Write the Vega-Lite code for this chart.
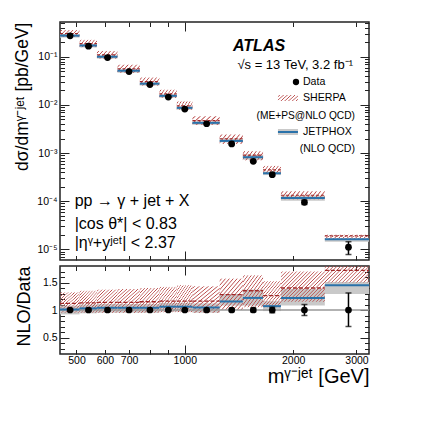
{
"$schema": "https://vega.github.io/schema/vega-lite/v6.json",
"padding": {"left": 13, "top": 20, "right": 5, "bottom": 5},
"spacing": 6,
"bounds": "flush",
"config": {
  "view": {"stroke": "#222", "strokeWidth": 1.5},
  "font": "Liberation Sans",
  "axis": {"domain": false, "grid": false, "tickColor": "#222", "tickWidth": 1, "labelFont": "Liberation Sans", "labelFontSize": 10.5, "labelColor": "#000", "titleFont": "Liberation Sans", "titleFontWeight": "normal", "titleColor": "#000", "labelOverlap": false},
  "text": {"font": "Liberation Sans", "color": "#000"}
},
"datasets": {
  "bins": [
    {"lo":450,"hi":510,"m":480,"d":0.273,"dlo":0.268,"dhi":0.278,"j":0.2757,"jlo":0.2512,"jhi":0.2948,"s":0.3058,"slo":0.2594,"shi":0.3604,"rj":1.01,"rjlo":0.92,"rjhi":1.08,"rs":1.12,"rslo":0.95,"rshi":1.32,"rdlo":0.98,"rdhi":1.02},
    {"lo":510,"hi":570,"m":540,"d":0.167,"dlo":0.164,"dhi":0.170,"j":0.172,"jlo":0.157,"jhi":0.1837,"s":0.1887,"slo":0.1587,"shi":0.2255,"rj":1.03,"rjlo":0.94,"rjhi":1.10,"rs":1.13,"rslo":0.95,"rshi":1.35,"rdlo":0.98,"rdhi":1.02},
    {"lo":570,"hi":650,"m":610,"d":0.0967,"dlo":0.0950,"dhi":0.0984,"j":0.1006,"jlo":0.0919,"jhi":0.1073,"s":0.1102,"slo":0.0919,"shi":0.1325,"rj":1.04,"rjlo":0.95,"rjhi":1.11,"rs":1.14,"rslo":0.95,"rshi":1.37,"rdlo":0.98,"rdhi":1.02},
    {"lo":650,"hi":750,"m":700,"d":0.0495,"dlo":0.0486,"dhi":0.0504,"j":0.0515,"jlo":0.0470,"jhi":0.0549,"s":0.0564,"slo":0.0470,"shi":0.0683,"rj":1.04,"rjlo":0.95,"rjhi":1.11,"rs":1.14,"rslo":0.95,"rshi":1.38,"rdlo":0.98,"rdhi":1.02},
    {"lo":750,"hi":850,"m":800,"d":0.0266,"dlo":0.0261,"dhi":0.0271,"j":0.0277,"jlo":0.0253,"jhi":0.0295,"s":0.0306,"slo":0.0253,"shi":0.0372,"rj":1.04,"rjlo":0.95,"rjhi":1.11,"rs":1.15,"rslo":0.95,"rshi":1.40,"rdlo":0.98,"rdhi":1.02},
    {"lo":850,"hi":950,"m":900,"d":0.0146,"dlo":0.01433,"dhi":0.01487,"j":0.01548,"jlo":0.01416,"jhi":0.0165,"s":0.01694,"slo":0.01402,"shi":0.02073,"rj":1.06,"rjlo":0.97,"rjhi":1.13,"rs":1.16,"rslo":0.96,"rshi":1.42,"rdlo":0.98,"rdhi":1.02},
    {"lo":950,"hi":1050,"m":1000,"d":0.00822,"dlo":0.00805,"dhi":0.00839,"j":0.00871,"jlo":0.00797,"jhi":0.00929,"s":0.00954,"slo":0.00789,"shi":0.01192,"rj":1.06,"rjlo":0.97,"rjhi":1.13,"rs":1.16,"rslo":0.96,"rshi":1.45,"rdlo":0.98,"rdhi":1.02},
    {"lo":1050,"hi":1250,"m":1150,"d":0.00407,"dlo":0.00398,"dhi":0.00416,"j":0.004253,"jlo":0.003867,"jhi":0.004558,"s":0.004721,"slo":0.003867,"shi":0.00582,"rj":1.045,"rjlo":0.95,"rjhi":1.12,"rs":1.16,"rslo":0.95,"rshi":1.43,"rdlo":0.98,"rdhi":1.02},
    {"lo":1250,"hi":1450,"m":1350,"d":0.00155,"dlo":0.00151,"dhi":0.00159,"j":0.00179,"jlo":0.001674,"jhi":0.0020,"s":0.001984,"slo":0.00155,"shi":0.002434,"rj":1.155,"rjlo":1.08,"rjhi":1.29,"rs":1.28,"rslo":1.0,"rshi":1.57,"rdlo":0.97,"rdhi":1.03},
    {"lo":1450,"hi":1650,"m":1550,"d":0.000673,"dlo":0.000649,"dhi":0.000697,"j":0.000821,"jlo":0.000727,"jhi":0.000922,"s":0.000909,"slo":0.000707,"shi":0.001097,"rj":1.22,"rjlo":1.08,"rjhi":1.37,"rs":1.35,"rslo":1.05,"rshi":1.63,"rdlo":0.965,"rdhi":1.035},
    {"lo":1650,"hi":1850,"m":1750,"d":0.000356,"dlo":0.000338,"dhi":0.000374,"j":0.000381,"jlo":0.000349,"jhi":0.000413,"s":0.000449,"slo":0.000374,"shi":0.000541,"rj":1.07,"rjlo":0.98,"rjhi":1.16,"rs":1.26,"rslo":1.05,"rshi":1.52,"rdlo":0.95,"rdhi":1.05},
    {"lo":1850,"hi":2450,"m":2150,"d":0.000095,"dlo":0.0000855,"dhi":0.0001045,"j":0.0001159,"jlo":0.0001026,"jhi":0.0001311,"s":0.000133,"slo":0.0001093,"shi":0.0001615,"rj":1.22,"rjlo":1.08,"rjhi":1.38,"rs":1.40,"rslo":1.15,"rshi":1.70,"rdlo":0.90,"rdhi":1.10},
    {"lo":2450,"hi":3250,"m":2850,"d":0.0000111,"dlo":0.0000078,"dhi":0.0000144,"j":0.0000161,"jlo":0.00001432,"jhi":0.00001676,"s":0.00001909,"slo":0.00001665,"shi":0.00001998,"rj":1.45,"rjlo":1.29,"rjhi":1.51,"rs":1.72,"rslo":1.50,"rshi":1.80,"rdlo":0.70,"rdhi":1.31}
  ]
},
"vconcat": [
{
  "width": 309, "height": 238,
  "data": {"name": "bins"},
  "resolve": {"axis": {"x": "independent", "y": "independent"}},
  "layer": [
    {"mark": {"type": "rect", "fill": "#c9c9c9"},
     "encoding": {
       "x": {"field": "lo", "type": "quantitative", "scale": {"type": "log", "domain": [450, 3250], "nice": false},
             "axis": {"orient": "bottom", "values": [500,600,700,800,900,1000,2000,3000], "labels": false, "title": null, "tickSize": {"condition": {"test": "datum.value == 1000", "value": -9}, "value": -4.5}}},
       "x2": {"field": "hi"},
       "y": {"field": "jlo", "type": "quantitative", "scale": {"type": "log", "domain": [0.000006, 0.53], "nice": false},
             "axis": {"orient": "left", "values": [0.00001, 0.0001, 0.001, 0.01, 0.1], "ticks": false, "tickSize": 0, "labelPadding": 3,
                      "labelExpr": "datum.value == 0.1 ? '10⁻¹' : datum.value == 0.01 ? '10⁻²' : datum.value == 0.001 ? '10⁻³' : datum.value == 0.0001 ? '10⁻⁴' : '10⁻⁵'",
                      "title": "dσ/dmᵞ⁻ʲᵉᵗ [pb/GeV]", "titleFontSize": 17.5, "titlePadding": 5, "titleAnchor": "end"}},
       "y2": {"field": "jhi"}
     }},
    {"transform": [{"filter": "datum.lo < 1850"}],
     "mark": {"type": "rect", "fill": {"gradient": "linear", "x1": 0, "y1": 0, "x2": 1.2, "y2": 0.4, "stops": [
        {"offset":0.0357,"color":"rgba(185,74,74,0)"},{"offset":0.0714,"color":"#b94a4a"},{"offset":0.1071,"color":"rgba(185,74,74,0)"},
        {"offset":0.1786,"color":"rgba(185,74,74,0)"},{"offset":0.2143,"color":"#b94a4a"},{"offset":0.25,"color":"rgba(185,74,74,0)"},
        {"offset":0.3214,"color":"rgba(185,74,74,0)"},{"offset":0.3571,"color":"#b94a4a"},{"offset":0.3929,"color":"rgba(185,74,74,0)"},
        {"offset":0.4643,"color":"rgba(185,74,74,0)"},{"offset":0.5,"color":"#b94a4a"},{"offset":0.5357,"color":"rgba(185,74,74,0)"},
        {"offset":0.6071,"color":"rgba(185,74,74,0)"},{"offset":0.6429,"color":"#b94a4a"},{"offset":0.6786,"color":"rgba(185,74,74,0)"},
        {"offset":0.75,"color":"rgba(185,74,74,0)"},{"offset":0.7857,"color":"#b94a4a"},{"offset":0.8214,"color":"rgba(185,74,74,0)"},
        {"offset":0.8929,"color":"rgba(185,74,74,0)"},{"offset":0.9286,"color":"#b94a4a"},{"offset":0.9643,"color":"rgba(185,74,74,0)"}]}},
     "encoding": {
       "x": {"field": "lo", "type": "quantitative", "scale": {"type": "log", "domain": [450, 3250], "nice": false},
             "axis": {"orient": "top", "values": [500,600,700,800,900,1000,2000,3000], "labels": false, "title": null, "tickSize": {"condition": {"test": "datum.value == 1000", "value": -9}, "value": -4.5}}},
       "x2": {"field": "hi"},
       "y": {"field": "slo", "type": "quantitative", "scale": {"type": "log", "domain": [0.000006, 0.53], "nice": false},
             "axis": {"orient": "left", "labels": false, "title": null,
                      "values": [0.000007,0.000008,0.000009,0.00001,0.00002,0.00003,0.00004,0.00005,0.00006,0.00007,0.00008,0.00009,0.0001,0.0002,0.0003,0.0004,0.0005,0.0006,0.0007,0.0008,0.0009,0.001,0.002,0.003,0.004,0.005,0.006,0.007,0.008,0.009,0.01,0.02,0.03,0.04,0.05,0.06,0.07,0.08,0.09,0.1,0.2,0.3,0.4,0.5],
                      "tickSize": {"condition": {"test": "abs(log(datum.value)/LN10 - round(log(datum.value)/LN10)) < 0.001", "value": -9}, "value": -4.5}}},
       "y2": {"field": "shi"}
     }},
    {"transform": [{"filter": "datum.lo >= 1850"}],
     "mark": {"type": "rect", "fill": {"gradient": "linear", "x1": 0, "y1": 0, "x2": 1.12, "y2": 0.16, "stops": [
        {"offset":0.0208,"color":"rgba(185,74,74,0)"},{"offset":0.0417,"color":"#b94a4a"},{"offset":0.0625,"color":"rgba(185,74,74,0)"},
        {"offset":0.1042,"color":"rgba(185,74,74,0)"},{"offset":0.125,"color":"#b94a4a"},{"offset":0.1458,"color":"rgba(185,74,74,0)"},
        {"offset":0.1875,"color":"rgba(185,74,74,0)"},{"offset":0.2083,"color":"#b94a4a"},{"offset":0.2292,"color":"rgba(185,74,74,0)"},
        {"offset":0.2708,"color":"rgba(185,74,74,0)"},{"offset":0.2917,"color":"#b94a4a"},{"offset":0.3125,"color":"rgba(185,74,74,0)"},
        {"offset":0.3542,"color":"rgba(185,74,74,0)"},{"offset":0.375,"color":"#b94a4a"},{"offset":0.3958,"color":"rgba(185,74,74,0)"},
        {"offset":0.4375,"color":"rgba(185,74,74,0)"},{"offset":0.4583,"color":"#b94a4a"},{"offset":0.4792,"color":"rgba(185,74,74,0)"},
        {"offset":0.5208,"color":"rgba(185,74,74,0)"},{"offset":0.5417,"color":"#b94a4a"},{"offset":0.5625,"color":"rgba(185,74,74,0)"},
        {"offset":0.6042,"color":"rgba(185,74,74,0)"},{"offset":0.625,"color":"#b94a4a"},{"offset":0.6458,"color":"rgba(185,74,74,0)"},
        {"offset":0.6875,"color":"rgba(185,74,74,0)"},{"offset":0.7083,"color":"#b94a4a"},{"offset":0.7292,"color":"rgba(185,74,74,0)"},
        {"offset":0.7708,"color":"rgba(185,74,74,0)"},{"offset":0.7917,"color":"#b94a4a"},{"offset":0.8125,"color":"rgba(185,74,74,0)"},
        {"offset":0.8542,"color":"rgba(185,74,74,0)"},{"offset":0.875,"color":"#b94a4a"},{"offset":0.8958,"color":"rgba(185,74,74,0)"},
        {"offset":0.9375,"color":"rgba(185,74,74,0)"},{"offset":0.9583,"color":"#b94a4a"},{"offset":0.9792,"color":"rgba(185,74,74,0)"}]}},
     "encoding": {
       "x": {"field": "lo", "type": "quantitative", "axis": null},
       "x2": {"field": "hi"},
       "y": {"field": "slo", "type": "quantitative",
             "axis": {"orient": "right", "labels": false, "title": null,
                      "values": [0.000007,0.000008,0.000009,0.00001,0.00002,0.00003,0.00004,0.00005,0.00006,0.00007,0.00008,0.00009,0.0001,0.0002,0.0003,0.0004,0.0005,0.0006,0.0007,0.0008,0.0009,0.001,0.002,0.003,0.004,0.005,0.006,0.007,0.008,0.009,0.01,0.02,0.03,0.04,0.05,0.06,0.07,0.08,0.09,0.1,0.2,0.3,0.4,0.5],
                      "tickSize": {"condition": {"test": "abs(log(datum.value)/LN10 - round(log(datum.value)/LN10)) < 0.001", "value": -9}, "value": -4.5}}},
       "y2": {"field": "shi"}
     }},
    {"mark": {"type": "rule", "color": "#a02828", "strokeWidth": 1.2, "strokeDash": [3, 2]},
     "encoding": {"x": {"field": "lo", "type": "quantitative", "axis": null}, "x2": {"field": "hi"}, "y": {"field": "s", "type": "quantitative", "axis": null}}},
    {"mark": {"type": "rule", "color": "#2a72aa", "strokeWidth": 2},
     "encoding": {"x": {"field": "lo", "type": "quantitative", "axis": null}, "x2": {"field": "hi"}, "y": {"field": "j", "type": "quantitative", "axis": null}}},
    {"mark": {"type": "errorbar", "ticks": {"size": 6, "color": "#000"}, "rule": {"color": "#000"}, "thickness": 1.5},
     "encoding": {"x": {"field": "m", "type": "quantitative", "axis": null}, "y": {"field": "dlo", "type": "quantitative", "axis": null}, "y2": {"field": "dhi"}}},
    {"mark": {"type": "point", "shape": "circle", "filled": true, "color": "#000", "opacity": 1, "size": 45},
     "encoding": {"x": {"field": "m", "type": "quantitative", "axis": null}, "y": {"field": "d", "type": "quantitative", "axis": null}}},
    {"data": {"values": [{}]}, "mark": {"type": "text", "text": "ATLAS", "fontSize": 16, "fontStyle": "italic", "fontWeight": "bold", "align": "left", "baseline": "middle"},
     "encoding": {"x": {"datum": 1361, "axis": null}, "y": {"datum": 0.1705, "axis": null}}},
    {"data": {"values": [{}]}, "mark": {"type": "text", "text": "√s = 13 TeV, 3.2 fb⁻¹", "fontSize": 13, "align": "right", "baseline": "middle"},
     "encoding": {"x": {"datum": 2933, "axis": null}, "y": {"datum": 0.0687, "axis": null}}},
    {"data": {"values": [{}]}, "mark": {"type": "point", "shape": "circle", "filled": true, "color": "#000", "opacity": 1, "size": 40},
     "encoding": {"x": {"datum": 2037, "axis": null}, "y": {"datum": 0.03003, "axis": null}}},
    {"data": {"values": [{}]}, "mark": {"type": "text", "text": "Data", "fontSize": 10.6, "align": "left", "baseline": "middle"},
     "encoding": {"x": {"datum": 2130, "axis": null}, "y": {"datum": 0.03003, "axis": null}}},
    {"data": {"values": [{}]},
     "mark": {"type": "rect", "fill": {"gradient": "linear", "x1": 0, "y1": 0, "x2": 1.2, "y2": 0.4, "stops": [
        {"offset":0.0357,"color":"rgba(185,74,74,0)"},{"offset":0.0714,"color":"#b94a4a"},{"offset":0.1071,"color":"rgba(185,74,74,0)"},
        {"offset":0.1786,"color":"rgba(185,74,74,0)"},{"offset":0.2143,"color":"#b94a4a"},{"offset":0.25,"color":"rgba(185,74,74,0)"},
        {"offset":0.3214,"color":"rgba(185,74,74,0)"},{"offset":0.3571,"color":"#b94a4a"},{"offset":0.3929,"color":"rgba(185,74,74,0)"},
        {"offset":0.4643,"color":"rgba(185,74,74,0)"},{"offset":0.5,"color":"#b94a4a"},{"offset":0.5357,"color":"rgba(185,74,74,0)"},
        {"offset":0.6071,"color":"rgba(185,74,74,0)"},{"offset":0.6429,"color":"#b94a4a"},{"offset":0.6786,"color":"rgba(185,74,74,0)"},
        {"offset":0.75,"color":"rgba(185,74,74,0)"},{"offset":0.7857,"color":"#b94a4a"},{"offset":0.8214,"color":"rgba(185,74,74,0)"},
        {"offset":0.8929,"color":"rgba(185,74,74,0)"},{"offset":0.9286,"color":"#b94a4a"},{"offset":0.9643,"color":"rgba(185,74,74,0)"}]}},
     "encoding": {"x": {"datum": 1815, "axis": null}, "x2": {"datum": 2063}, "y": {"datum": 0.01612, "axis": null}, "y2": {"datum": 0.0121}}},
    {"data": {"values": [{}]}, "mark": {"type": "text", "text": "SHERPA", "fontSize": 10.6, "align": "left", "baseline": "middle"},
     "encoding": {"x": {"datum": 2130, "axis": null}, "y": {"datum": 0.01396, "axis": null}}},
    {"data": {"values": [{}]}, "mark": {"type": "text", "text": "(ME+PS@NLO QCD)", "fontSize": 10.2, "align": "right", "baseline": "middle"},
     "encoding": {"x": {"datum": 2971, "axis": null}, "y": {"datum": 0.005902, "axis": null}}},
    {"data": {"values": [{}]}, "mark": {"type": "rect", "fill": "#c9c9c9"},
     "encoding": {"x": {"datum": 1815, "axis": null}, "x2": {"datum": 2063}, "y": {"datum": 0.003168, "axis": null}, "y2": {"datum": 0.002377}}},
    {"data": {"values": [{}]}, "mark": {"type": "rule", "color": "#2a72aa", "strokeWidth": 2},
     "encoding": {"x": {"datum": 1815, "axis": null}, "x2": {"datum": 2063}, "y": {"datum": 0.002744, "axis": null}}},
    {"data": {"values": [{}]}, "mark": {"type": "text", "text": "JETPHOX", "fontSize": 10.6, "align": "left", "baseline": "middle"},
     "encoding": {"x": {"datum": 2130, "axis": null}, "y": {"datum": 0.002744, "axis": null}}},
    {"data": {"values": [{}]}, "mark": {"type": "text", "text": "(NLO QCD)", "fontSize": 10.6, "align": "right", "baseline": "middle"},
     "encoding": {"x": {"datum": 2971, "axis": null}, "y": {"datum": 0.0011992, "axis": null}}},
    {"data": {"values": [{}]}, "mark": {"type": "text", "text": "pp → γ + jet + X", "fontSize": 16, "align": "left", "baseline": "middle"},
     "encoding": {"x": {"datum": 494.3, "axis": null}, "y": {"datum": 0.00010104, "axis": null}}},
    {"data": {"values": [{}]}, "mark": {"type": "text", "text": "|cos θ*| < 0.83", "fontSize": 16, "align": "left", "baseline": "middle"},
     "encoding": {"x": {"datum": 494.3, "axis": null}, "y": {"datum": 0.00003313, "axis": null}}},
    {"data": {"values": [{}]}, "mark": {"type": "text", "text": "|ηᵞ+yʲᵉᵗ| < 2.37", "fontSize": 16, "align": "left", "baseline": "middle"},
     "encoding": {"x": {"datum": 494.3, "axis": null}, "y": {"datum": 0.00001373, "axis": null}}}
  ]
},
{
  "width": 309, "height": 88,
  "data": {"name": "bins"},
  "resolve": {"axis": {"x": "independent", "y": "independent"}},
  "layer": [
    {"mark": {"type": "rect", "fill": "#c9c9c9", "clip": true},
     "encoding": {
       "x": {"field": "lo", "type": "quantitative", "scale": {"type": "log", "domain": [450, 3250], "nice": false},
             "axis": {"orient": "bottom", "values": [500,600,700,1000,2000,3000], "format": "d", "ticks": false, "tickSize": 0, "labelPadding": 1,
                      "title": "mᵞ⁻ʲᵉᵗ [GeV]", "titleFontSize": 20, "titleAnchor": "end", "titlePadding": 1}},
       "x2": {"field": "hi"},
       "y": {"field": "rjlo", "type": "quantitative", "scale": {"domain": [0.2, 1.8], "nice": false, "zero": false},
             "axis": {"orient": "left", "values": [0.5, 1, 1.5], "ticks": false, "tickSize": 0, "labelPadding": 3,
                      "labelExpr": "datum.value == 1 ? '1' : format(datum.value, '.1f')",
                      "title": "NLO/Data", "titleFontSize": 18, "titlePadding": 9, "titleAnchor": "end"}},
       "y2": {"field": "rjhi"}
     }},
    {"transform": [{"filter": "datum.lo < 1850"}],
     "mark": {"type": "rect", "clip": true, "fill": {"gradient": "linear", "x1": 0, "y1": 0, "x2": 0.913, "y2": 1.074, "stops": [
        {"offset":0.0192,"color":"rgba(185,74,74,0)"},{"offset":0.0385,"color":"#b94a4a"},{"offset":0.0577,"color":"rgba(185,74,74,0)"},
        {"offset":0.0962,"color":"rgba(185,74,74,0)"},{"offset":0.1154,"color":"#b94a4a"},{"offset":0.1346,"color":"rgba(185,74,74,0)"},
        {"offset":0.1731,"color":"rgba(185,74,74,0)"},{"offset":0.1923,"color":"#b94a4a"},{"offset":0.2115,"color":"rgba(185,74,74,0)"},
        {"offset":0.25,"color":"rgba(185,74,74,0)"},{"offset":0.2692,"color":"#b94a4a"},{"offset":0.2885,"color":"rgba(185,74,74,0)"},
        {"offset":0.3269,"color":"rgba(185,74,74,0)"},{"offset":0.3462,"color":"#b94a4a"},{"offset":0.3654,"color":"rgba(185,74,74,0)"},
        {"offset":0.4038,"color":"rgba(185,74,74,0)"},{"offset":0.4231,"color":"#b94a4a"},{"offset":0.4423,"color":"rgba(185,74,74,0)"},
        {"offset":0.4808,"color":"rgba(185,74,74,0)"},{"offset":0.5,"color":"#b94a4a"},{"offset":0.5192,"color":"rgba(185,74,74,0)"},
        {"offset":0.5577,"color":"rgba(185,74,74,0)"},{"offset":0.5769,"color":"#b94a4a"},{"offset":0.5962,"color":"rgba(185,74,74,0)"},
        {"offset":0.6346,"color":"rgba(185,74,74,0)"},{"offset":0.6538,"color":"#b94a4a"},{"offset":0.6731,"color":"rgba(185,74,74,0)"},
        {"offset":0.7115,"color":"rgba(185,74,74,0)"},{"offset":0.7308,"color":"#b94a4a"},{"offset":0.75,"color":"rgba(185,74,74,0)"},
        {"offset":0.7885,"color":"rgba(185,74,74,0)"},{"offset":0.8077,"color":"#b94a4a"},{"offset":0.8269,"color":"rgba(185,74,74,0)"},
        {"offset":0.8654,"color":"rgba(185,74,74,0)"},{"offset":0.8846,"color":"#b94a4a"},{"offset":0.9038,"color":"rgba(185,74,74,0)"},
        {"offset":0.9423,"color":"rgba(185,74,74,0)"},{"offset":0.9615,"color":"#b94a4a"},{"offset":0.9808,"color":"rgba(185,74,74,0)"}]}},
     "encoding": {
       "x": {"field": "lo", "type": "quantitative", "scale": {"type": "log", "domain": [450, 3250], "nice": false},
             "axis": {"orient": "bottom", "values": [500,600,700,800,900,1000,2000,3000], "labels": false, "title": null, "tickSize": {"condition": {"test": "datum.value == 1000", "value": -9}, "value": -4.5}}},
       "x2": {"field": "hi"},
       "y": {"field": "rslo", "type": "quantitative",
             "axis": {"orient": "left", "labels": false, "title": null, "values": [0.3,0.4,0.5,0.6,0.7,0.8,0.9,1,1.1,1.2,1.3,1.4,1.5,1.6,1.7],
                      "tickSize": {"condition": {"test": "datum.value == 0.5 || datum.value == 1 || datum.value == 1.5", "value": -9}, "value": -4.5}}},
       "y2": {"field": "rshi"}
     }},
    {"transform": [{"filter": "datum.lo == 1850"}],
     "mark": {"type": "rect", "clip": true, "fill": {"gradient": "linear", "x1": 0, "y1": 0, "x2": 1.149, "y2": 0.782, "stops": [
        {"offset":0.0119,"color":"rgba(185,74,74,0)"},{"offset":0.0238,"color":"#b94a4a"},{"offset":0.0357,"color":"rgba(185,74,74,0)"},
        {"offset":0.0595,"color":"rgba(185,74,74,0)"},{"offset":0.0714,"color":"#b94a4a"},{"offset":0.0833,"color":"rgba(185,74,74,0)"},
        {"offset":0.1071,"color":"rgba(185,74,74,0)"},{"offset":0.119,"color":"#b94a4a"},{"offset":0.131,"color":"rgba(185,74,74,0)"},
        {"offset":0.1548,"color":"rgba(185,74,74,0)"},{"offset":0.1667,"color":"#b94a4a"},{"offset":0.1786,"color":"rgba(185,74,74,0)"},
        {"offset":0.2024,"color":"rgba(185,74,74,0)"},{"offset":0.2143,"color":"#b94a4a"},{"offset":0.2262,"color":"rgba(185,74,74,0)"},
        {"offset":0.25,"color":"rgba(185,74,74,0)"},{"offset":0.2619,"color":"#b94a4a"},{"offset":0.2738,"color":"rgba(185,74,74,0)"},
        {"offset":0.2976,"color":"rgba(185,74,74,0)"},{"offset":0.3095,"color":"#b94a4a"},{"offset":0.3214,"color":"rgba(185,74,74,0)"},
        {"offset":0.3452,"color":"rgba(185,74,74,0)"},{"offset":0.3571,"color":"#b94a4a"},{"offset":0.369,"color":"rgba(185,74,74,0)"},
        {"offset":0.3929,"color":"rgba(185,74,74,0)"},{"offset":0.4048,"color":"#b94a4a"},{"offset":0.4167,"color":"rgba(185,74,74,0)"},
        {"offset":0.4405,"color":"rgba(185,74,74,0)"},{"offset":0.4524,"color":"#b94a4a"},{"offset":0.4643,"color":"rgba(185,74,74,0)"},
        {"offset":0.4881,"color":"rgba(185,74,74,0)"},{"offset":0.5,"color":"#b94a4a"},{"offset":0.5119,"color":"rgba(185,74,74,0)"},
        {"offset":0.5357,"color":"rgba(185,74,74,0)"},{"offset":0.5476,"color":"#b94a4a"},{"offset":0.5595,"color":"rgba(185,74,74,0)"},
        {"offset":0.5833,"color":"rgba(185,74,74,0)"},{"offset":0.5952,"color":"#b94a4a"},{"offset":0.6071,"color":"rgba(185,74,74,0)"},
        {"offset":0.631,"color":"rgba(185,74,74,0)"},{"offset":0.6429,"color":"#b94a4a"},{"offset":0.6548,"color":"rgba(185,74,74,0)"},
        {"offset":0.6786,"color":"rgba(185,74,74,0)"},{"offset":0.6905,"color":"#b94a4a"},{"offset":0.7024,"color":"rgba(185,74,74,0)"},
        {"offset":0.7262,"color":"rgba(185,74,74,0)"},{"offset":0.7381,"color":"#b94a4a"},{"offset":0.75,"color":"rgba(185,74,74,0)"},
        {"offset":0.7738,"color":"rgba(185,74,74,0)"},{"offset":0.7857,"color":"#b94a4a"},{"offset":0.7976,"color":"rgba(185,74,74,0)"},
        {"offset":0.8214,"color":"rgba(185,74,74,0)"},{"offset":0.8333,"color":"#b94a4a"},{"offset":0.8452,"color":"rgba(185,74,74,0)"},
        {"offset":0.869,"color":"rgba(185,74,74,0)"},{"offset":0.881,"color":"#b94a4a"},{"offset":0.8929,"color":"rgba(185,74,74,0)"},
        {"offset":0.9167,"color":"rgba(185,74,74,0)"},{"offset":0.9286,"color":"#b94a4a"},{"offset":0.9405,"color":"rgba(185,74,74,0)"},
        {"offset":0.9643,"color":"rgba(185,74,74,0)"},{"offset":0.9762,"color":"#b94a4a"},{"offset":0.9881,"color":"rgba(185,74,74,0)"}]}},
     "encoding": {
       "x": {"field": "lo", "type": "quantitative",
             "axis": {"orient": "top", "values": [500,600,700,800,900,1000,2000,3000], "labels": false, "title": null, "tickSize": {"condition": {"test": "datum.value == 1000", "value": -9}, "value": -4.5}}},
       "x2": {"field": "hi"},
       "y": {"field": "rslo", "type": "quantitative",
             "axis": {"orient": "right", "labels": false, "title": null, "values": [0.3,0.4,0.5,0.6,0.7,0.8,0.9,1,1.1,1.2,1.3,1.4,1.5,1.6,1.7],
                      "tickSize": {"condition": {"test": "datum.value == 0.5 || datum.value == 1 || datum.value == 1.5", "value": -9}, "value": -4.5}}},
       "y2": {"field": "rshi"}
     }},
    {"transform": [{"filter": "datum.lo == 2450"}],
     "mark": {"type": "rect", "clip": true, "fill": {"gradient": "linear", "x1": 0, "y1": 0, "x2": 1.205, "y2": 0.446, "stops": [
        {"offset":0.0147,"color":"rgba(185,74,74,0)"},{"offset":0.0294,"color":"#b94a4a"},{"offset":0.0441,"color":"rgba(185,74,74,0)"},
        {"offset":0.0735,"color":"rgba(185,74,74,0)"},{"offset":0.0882,"color":"#b94a4a"},{"offset":0.1029,"color":"rgba(185,74,74,0)"},
        {"offset":0.1324,"color":"rgba(185,74,74,0)"},{"offset":0.1471,"color":"#b94a4a"},{"offset":0.1618,"color":"rgba(185,74,74,0)"},
        {"offset":0.1912,"color":"rgba(185,74,74,0)"},{"offset":0.2059,"color":"#b94a4a"},{"offset":0.2206,"color":"rgba(185,74,74,0)"},
        {"offset":0.25,"color":"rgba(185,74,74,0)"},{"offset":0.2647,"color":"#b94a4a"},{"offset":0.2794,"color":"rgba(185,74,74,0)"},
        {"offset":0.3088,"color":"rgba(185,74,74,0)"},{"offset":0.3235,"color":"#b94a4a"},{"offset":0.3382,"color":"rgba(185,74,74,0)"},
        {"offset":0.3676,"color":"rgba(185,74,74,0)"},{"offset":0.3824,"color":"#b94a4a"},{"offset":0.3971,"color":"rgba(185,74,74,0)"},
        {"offset":0.4265,"color":"rgba(185,74,74,0)"},{"offset":0.4412,"color":"#b94a4a"},{"offset":0.4559,"color":"rgba(185,74,74,0)"},
        {"offset":0.4853,"color":"rgba(185,74,74,0)"},{"offset":0.5,"color":"#b94a4a"},{"offset":0.5147,"color":"rgba(185,74,74,0)"},
        {"offset":0.5441,"color":"rgba(185,74,74,0)"},{"offset":0.5588,"color":"#b94a4a"},{"offset":0.5735,"color":"rgba(185,74,74,0)"},
        {"offset":0.6029,"color":"rgba(185,74,74,0)"},{"offset":0.6176,"color":"#b94a4a"},{"offset":0.6324,"color":"rgba(185,74,74,0)"},
        {"offset":0.6618,"color":"rgba(185,74,74,0)"},{"offset":0.6765,"color":"#b94a4a"},{"offset":0.6912,"color":"rgba(185,74,74,0)"},
        {"offset":0.7206,"color":"rgba(185,74,74,0)"},{"offset":0.7353,"color":"#b94a4a"},{"offset":0.75,"color":"rgba(185,74,74,0)"},
        {"offset":0.7794,"color":"rgba(185,74,74,0)"},{"offset":0.7941,"color":"#b94a4a"},{"offset":0.8088,"color":"rgba(185,74,74,0)"},
        {"offset":0.8382,"color":"rgba(185,74,74,0)"},{"offset":0.8529,"color":"#b94a4a"},{"offset":0.8676,"color":"rgba(185,74,74,0)"},
        {"offset":0.8971,"color":"rgba(185,74,74,0)"},{"offset":0.9118,"color":"#b94a4a"},{"offset":0.9265,"color":"rgba(185,74,74,0)"},
        {"offset":0.9559,"color":"rgba(185,74,74,0)"},{"offset":0.9706,"color":"#b94a4a"},{"offset":0.9853,"color":"rgba(185,74,74,0)"}]}},
     "encoding": {"x": {"field": "lo", "type": "quantitative", "axis": null}, "x2": {"field": "hi"}, "y": {"field": "rslo", "type": "quantitative", "axis": null}, "y2": {"field": "rshi"}}},
    {"data": {"values": [{}]}, "mark": {"type": "rule", "color": "#999", "strokeWidth": 1.6},
     "encoding": {"y": {"datum": 1, "axis": null}}},
    {"mark": {"type": "rule", "color": "#2a72aa", "strokeWidth": 2, "clip": true},
     "encoding": {"x": {"field": "lo", "type": "quantitative", "axis": null}, "x2": {"field": "hi"}, "y": {"field": "rj", "type": "quantitative", "axis": null}}},
    {"mark": {"type": "rule", "color": "#a02828", "strokeWidth": 1.3, "strokeDash": [4, 2], "clip": true},
     "encoding": {"x": {"field": "lo", "type": "quantitative", "axis": null}, "x2": {"field": "hi"}, "y": {"field": "rs", "type": "quantitative", "axis": null}}},
    {"mark": {"type": "errorbar", "ticks": {"size": 6, "color": "#000"}, "rule": {"color": "#000"}, "thickness": 1.5},
     "encoding": {"x": {"field": "m", "type": "quantitative", "axis": null}, "y": {"field": "rdlo", "type": "quantitative", "axis": null}, "y2": {"field": "rdhi"}}},
    {"mark": {"type": "point", "shape": "circle", "filled": true, "color": "#000", "opacity": 1, "size": 45},
     "encoding": {"x": {"field": "m", "type": "quantitative", "axis": null}, "y": {"datum": 1, "axis": null}}}
  ]
}
]
}
